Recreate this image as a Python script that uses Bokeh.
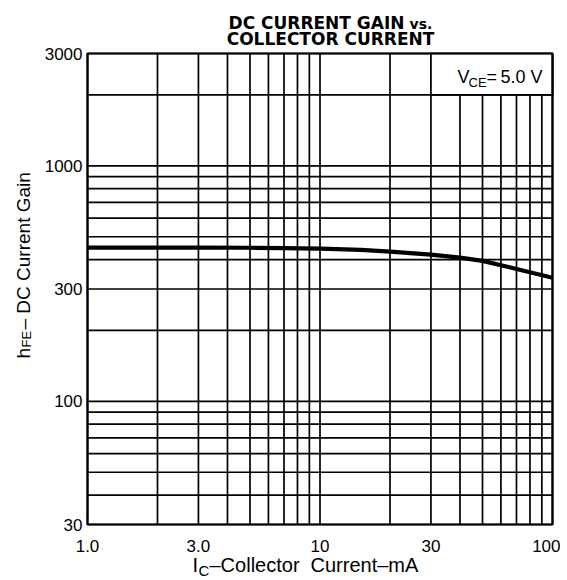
import math
from bokeh.plotting import figure
from bokeh.models import FixedTicker, Label
from bokeh.embed import file_html
from bokeh.resources import INLINE

# ---- data ----
ic_ma = [1, 2, 3, 5, 7, 10, 15, 20, 30, 40, 50, 70, 100]
hfe = [450, 450, 450, 449, 447, 445, 440, 432, 420, 408, 395, 365, 335]

chart_x = [1, 100]       # axis limits of the chart
chart_y = [30, 3000]

x_ticks = [1, 3, 10, 30, 100]
x_tick_labels = ["1.0", "3.0", "10", "30", "100"]
y_ticks = [30, 100, 300, 1000, 3000]
y_tick_labels = ["30", "100", "300", "1000", "3000"]

x_grid = [1, 2, 3, 4, 5, 6, 7, 8, 9, 10, 20, 30, 40, 50, 60, 70, 80, 90, 100]
y_grid = [30, 40, 50, 60, 70, 80, 90, 100, 200, 300, 400, 500, 600, 700, 800, 900,
          1000, 2000, 3000]

box_x = [30, 100]
box_y = [2000, 3000]

# ---- layout (pixels) ----
CW, CH = 560, 580                    # canvas
CL, CT, PW, PH = 87, 53, 465, 471    # chart box inside the canvas

# the frame covers the whole canvas; extend the log ranges so that the chart
# box lands at the wanted pixels
kx = PW / (math.log10(chart_x[1]) - math.log10(chart_x[0]))
ky = PH / (math.log10(chart_y[1]) - math.log10(chart_y[0]))
x_range = (10 ** (math.log10(chart_x[0]) - CL / kx),
           10 ** (math.log10(chart_x[1]) + (CW - CL - PW) / kx))
y_range = (10 ** (math.log10(chart_y[0]) - (CH - CT - PH) / ky),
           10 ** (math.log10(chart_y[1]) + CT / ky))

p = figure(x_axis_type="log", y_axis_type="log", x_range=x_range, y_range=y_range,
           frame_width=CW, frame_height=CH, min_border=0,
           output_backend="svg", toolbar_location=None)
p.title.text = ""
p.background_fill_color = "white"
p.border_fill_color = "white"
p.outline_line_color = None
p.grid.visible = False

# axes pinned to the chart's edges
p.xaxis.fixed_location = chart_y[0]
p.yaxis.fixed_location = chart_x[0]
p.xaxis.ticker = FixedTicker(ticks=x_ticks, minor_ticks=[])
p.yaxis.ticker = FixedTicker(ticks=y_ticks, minor_ticks=[])
p.xaxis.major_label_overrides = dict(zip(x_ticks, x_tick_labels))
p.yaxis.major_label_overrides = dict(zip(y_ticks, y_tick_labels))
for ax in (p.xaxis, p.yaxis):
    ax.axis_line_color = None
    ax.major_tick_line_color = None
    ax.minor_tick_line_color = None
    ax.major_tick_out = 0
    ax.major_tick_in = 0
    ax.minor_tick_out = 0
    ax.minor_tick_in = 0
    ax.major_label_text_font = "Liberation Sans"
    ax.major_label_text_font_size = "17px"
    ax.major_label_text_color = "black"
p.xaxis.major_label_standoff = 15
p.yaxis.major_label_standoff = 5

# grid lines, limited to the chart box
nx, ny = len(x_grid), len(y_grid)
p.segment(x0=x_grid, x1=x_grid, y0=[chart_y[0]] * nx, y1=[chart_y[1]] * nx,
          line_color="black", line_width=1.7)
p.segment(x0=[chart_x[0]] * ny, x1=[chart_x[1]] * ny, y0=y_grid, y1=y_grid,
          line_color="black", line_width=1.7)

# annotation box
p.quad(left=[box_x[0]], right=[box_x[1]], bottom=[box_y[0]], top=[box_y[1]],
       fill_color="white", line_color="black", line_width=1.7)

# chart border
p.quad(left=[chart_x[0]], right=[chart_x[1]], bottom=[chart_y[0]], top=[chart_y[1]],
       fill_color=None, line_color="black", line_width=2.2)

# curve
p.line(ic_ma, hfe, line_width=4.2, line_color="black")


# ---- texts, placed by their baseline in canvas pixels ----
def lab(text, px, py, size, align="left", bold=False, angle=0.0, font="Liberation Sans"):
    shift = 0.35 * size          # baseline -> middle of the text box
    if angle:
        sx, sy = px - shift, py
    else:
        sx, sy = px, py - shift
    p.add_layout(Label(x=sx, y=CH - sy, x_units="screen", y_units="screen",
                       text=text, text_font=font, text_font_size=f"{size}px",
                       text_align=align, text_baseline="middle",
                       text_font_style="bold" if bold else "normal",
                       angle=angle, text_color="black"))


# title
lab("DC CURRENT GAIN", 404, 28, 17, align="right", bold=True, font="DejaVu Sans")
lab("vs.", 409, 28, 14, bold=True, font="DejaVu Sans")
lab("COLLECTOR CURRENT", 330, 44, 17, align="center", bold=True, font="DejaVu Sans")

# V_CE box text
lab("V", 457, 83, 18)
lab("CE", 468, 87, 13)
lab("=", 486, 83, 18)
lab("5.0 V", 542, 83, 18, align="right")

# x title
lab("I", 192, 571, 20)
lab("C", 198, 575, 15)
lab("\u2013Collector", 209, 571, 20)
lab("Current\u2013mA", 310, 571, 20)

# y title (rotated)
a = math.pi / 2
lab("h", 30, 358, 19, angle=a)
lab("FE", 31, 347, 13, angle=a)
lab("\u2013 DC Current Gain", 30, 329, 19, angle=a)

open("out.html", "w").write(file_html(p, INLINE))
